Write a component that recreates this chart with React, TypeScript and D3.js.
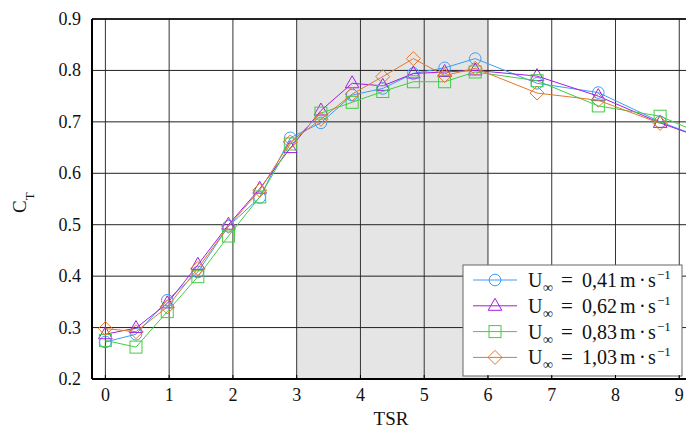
import React from "react";
import * as d3 from "d3";

const tsr = [0, 0.48, 0.97, 1.45, 1.93, 2.42, 2.9, 3.38, 3.87, 4.35, 4.83, 5.32, 5.8, 6.77, 7.73, 8.7, 9.67];
const ct041 = [0.272, 0.287, 0.353, 0.408, 0.497, 0.553, 0.669, 0.698, 0.752, 0.765, 0.794, 0.805, 0.823, 0.775, 0.757, 0.7, 0.655];
const ct062 = [0.287, 0.299, 0.347, 0.422, 0.5, 0.57, 0.649, 0.722, 0.775, 0.77, 0.794, 0.797, 0.8, 0.789, 0.75, 0.698, 0.655];
const ct083 = [0.275, 0.262, 0.331, 0.399, 0.478, 0.554, 0.657, 0.717, 0.738, 0.759, 0.778, 0.778, 0.797, 0.78, 0.731, 0.711, 0.66];
const ct103 = [0.298, 0.292, 0.34, 0.415, 0.497, 0.567, 0.661, 0.705, 0.754, 0.788, 0.823, 0.79, 0.804, 0.756, 0.742, 0.697];
const speeds = ["0,41", "0,62", "0,83", "1,03"];
const colors = ["#3d9df5", "#a020e0", "#44cc44", "#e07830"];
const shapes = ["circle", "triangle", "square", "diamond"];
const xTicks = [0, 1, 2, 3, 4, 5, 6, 7, 8, 9];
const yTicks = [0.2, 0.3, 0.4, 0.5, 0.6, 0.7, 0.8, 0.9];
const shadeRange = [3, 6];

const W = 686, H = 430;
const L = 92, R = 686, T = 19, B = 379;
const FONT = "'Liberation Serif', 'DejaVu Serif', serif";
const fs = (size: number) => ({ fontFamily: FONT, fontSize: size + "px" });

function Marker({ shape, x, y, color }: { shape: string; x: number; y: number; color: string }) {
  const common = { fill: "none", stroke: color, strokeWidth: 1 };
  if (shape === "circle") return <circle cx={x} cy={y} r={5.8} {...common} />;
  if (shape === "square") return <rect x={x - 6} y={y - 6} width={12} height={12} {...common} />;
  if (shape === "triangle")
    return <path d={`M${x},${y - 7.5} L${x + 6.8},${y + 4.5} L${x - 6.8},${y + 4.5} Z`} {...common} />;
  return <path d={`M${x},${y - 7} L${x + 7},${y} L${x},${y + 7} L${x - 7},${y} Z`} {...common} />;
}

export default function App() {
  const x = d3.scaleLinear().domain([-0.21, 9.09]).range([L, R - 1]);
  const y = d3.scaleLinear().domain([0.2, 0.9]).range([B, T]);
  const series = [ct041, ct062, ct083, ct103];
  const line = d3
    .line<[number, number]>()
    .x((d) => x(d[0]))
    .y((d) => y(d[1]));

  const legX = 463, legY = 265, legW = 219, legH = 111;
  return (
    <svg width={W} height={H} style={{ position: "absolute", left: 0, top: 0, background: "#fff", fontFamily: FONT }}>
      <defs>
        <clipPath id="plot">
          <rect x={L} y={T} width={R - L} height={B - T} />
        </clipPath>
      </defs>
      <rect x={x(shadeRange[0])} y={T} width={x(shadeRange[1]) - x(shadeRange[0])} height={B - T} fill="#e5e5e5" />
      {xTicks.map((t) => (
        <line key={"gx" + t} x1={x(t)} x2={x(t)} y1={T} y2={B} stroke="#333" strokeWidth={1} />
      ))}
      {yTicks.map((t) => (
        <line key={"gy" + t} x1={L} x2={R} y1={y(t)} y2={y(t)} stroke="#222" strokeWidth={1} />
      ))}
      <g clipPath="url(#plot)">
        {series.map((s, i) => {
          const pts: [number, number][] = s.map((v, j) => [tsr[j], v]);
          return (
            <g key={"s" + i}>
              <path d={line(pts) || ""} fill="none" stroke={colors[i]} strokeWidth={1} />
              {pts.map((p, j) => (
                <Marker key={j} shape={shapes[i]} x={x(p[0])} y={y(p[1])} color={colors[i]} />
              ))}
            </g>
          );
        })}
      </g>
      <rect x={legX} y={legY} width={legW} height={legH} fill="#fff" stroke="#666" strokeWidth={1} />
      {speeds.map((sp, i) => {
        const cy = legY + 15 + i * 25.8;
        const by = cy + 7;
        return (
          <g key={"l" + i}>
            <line x1={473} x2={517} y1={cy} y2={cy} stroke={colors[i]} strokeWidth={1} />
            <Marker shape={shapes[i]} x={495} y={cy} color={colors[i]} />
            <g fill="#111">
              <text x={528} y={by} style={fs(20)}>U</text>
              <text x={543} y={by + 5} style={fs(14)}>∞</text>
              <text x={561} y={by} style={fs(21)}>=</text>
              <text x={582} y={by} style={fs(20)}>{sp}</text>
              <text x={620} y={by} style={fs(20)}>m</text>
              <text x={639} y={by} style={fs(20)}>·</text>
              <text x={648} y={by} style={fs(20)}>s</text>
              <text x={657} y={by - 8} style={fs(13)}>−1</text>
            </g>
          </g>
        );
      })}
      <line x1={L} x2={R} y1={T} y2={T} stroke="#000" strokeWidth={1.5} />
      <line x1={L} x2={L} y1={T} y2={B} stroke="#000" strokeWidth={2} />
      <line x1={L} x2={R} y1={B} y2={B} stroke="#000" strokeWidth={2} />
      {xTicks.map((t) => (
        <line key={"tx" + t} x1={x(t)} x2={x(t)} y1={B} y2={B - 4} stroke="#000" strokeWidth={1} />
      ))}
      {xTicks.map((t) => (
        <text key={"lx" + t} x={x(t)} y={B + 22} textAnchor="middle" style={fs(18)} fill="#111">
          {t}
        </text>
      ))}
      {yTicks.map((t) => (
        <text key={"ly" + t} x={81} y={y(t) + 6} textAnchor="end" style={fs(18)} fill="#111">
          {t.toFixed(1)}
        </text>
      ))}
      <text x={391} y={425} textAnchor="middle" style={fs(19)} fill="#111">
        TSR
      </text>
      <text transform="translate(26,213) rotate(-90)" style={fs(19)} fill="#111">
        C<tspan style={fs(13)} dy={8}>T</tspan>
      </text>
    </svg>
  );
}
